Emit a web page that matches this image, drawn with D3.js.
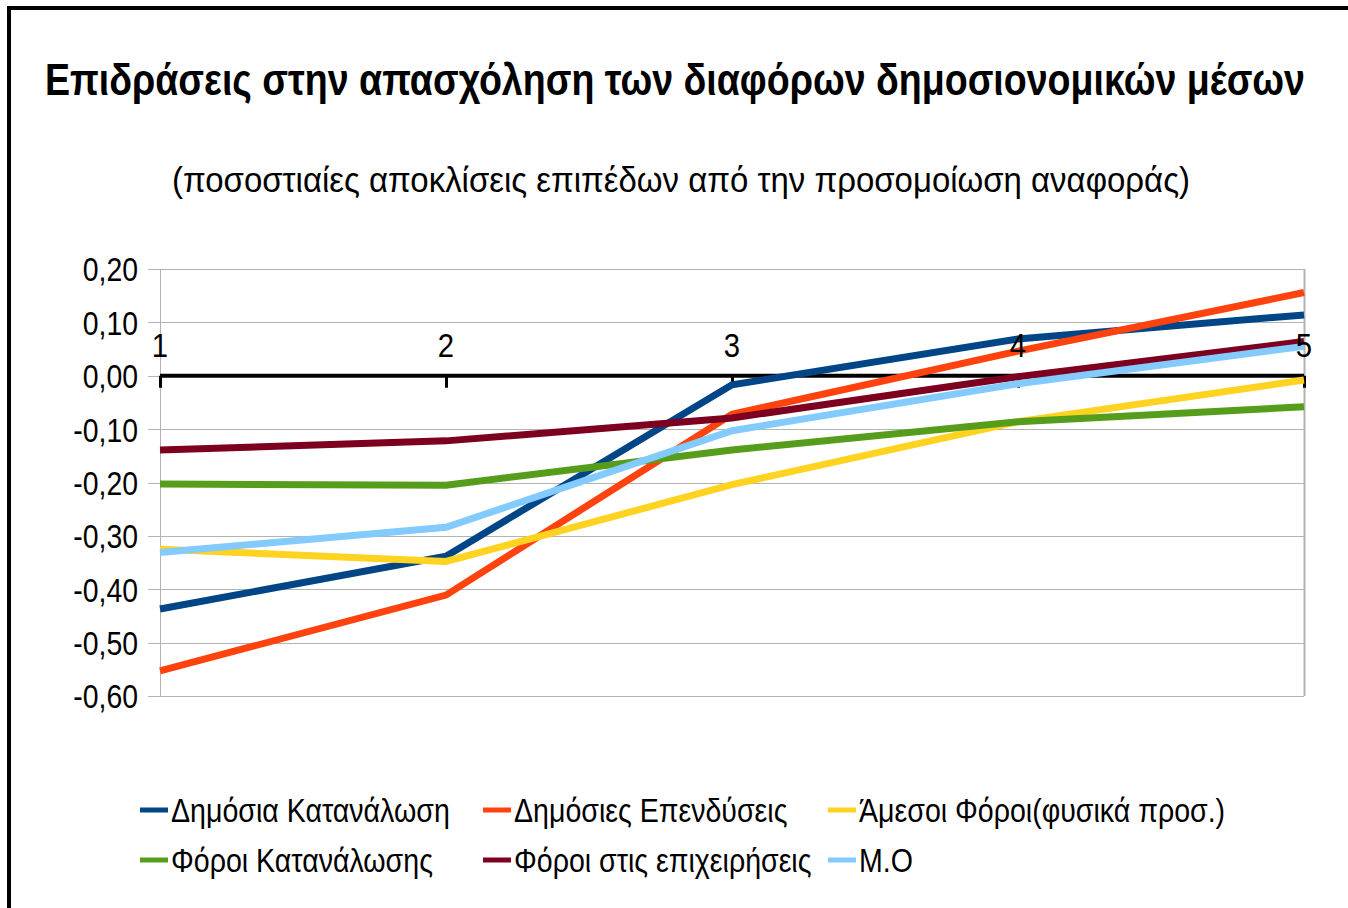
<!DOCTYPE html>
<meta charset="utf-8">
<style>
body { margin: 0; background: #fff; }
text { font-family: "Liberation Sans", Arial, sans-serif; fill: #000; }
.grid line { stroke: #b3b3b3; stroke-width: 1px; }
.series { fill: none; stroke-width: 7px; stroke-linejoin: miter; }
</style>
<body>
<script src="https://cdn.jsdelivr.net/npm/d3@7"></script>
<script>

// categories on the x axis
var years = [1, 2, 3, 4, 5];

// series values
var dimosiaKatanalosi  = [-0.437, -0.338, -0.017, 0.069, 0.114];
var dimosiesEpendyseis = [-0.553, -0.411, -0.072, 0.046, 0.156];
var amesoiForoi        = [-0.325, -0.348, -0.204, -0.086, -0.008];
var foroiKatanalosis   = [-0.203, -0.205, -0.139, -0.086, -0.058];
var foroiEpixeiriseis  = [-0.139, -0.122, -0.079, -0.002, 0.064];
var mesosOros          = [-0.331, -0.284, -0.103, -0.015, 0.055];

var seriesNames = ["Δημόσια Κατανάλωση", "Δημόσιες Επενδύσεις", "Άμεσοι Φόροι(φυσικά προσ.)",
                   "Φόροι Κατανάλωσης", "Φόροι στις επιχειρήσεις", "Μ.Ο"];
var seriesColors = ["#004586", "#ff420e", "#ffd320", "#579d1c", "#7e0021", "#83caff"];
var yTicks = [0.2, 0.1, 0, -0.1, -0.2, -0.3, -0.4, -0.5, -0.6];

var series = [dimosiaKatanalosi, dimosiesEpendyseis, amesoiForoi,
              foroiKatanalosis, foroiEpixeiriseis, mesosOros].map(function(v, i) {
  return { name: seriesNames[i], color: seriesColors[i], values: v };
});

var W = 1348, H = 908;
var plot = { left: 160, right: 1304, top: 269, bottom: 696 };

// the original uses a narrow font; squeeze the glyphs horizontally
function narrow(sel, k) {
  sel.each(function() {
    var w = this.getComputedTextLength();
    d3.select(this).attr("textLength", w * k).attr("lengthAdjust", "spacingAndGlyphs");
  });
}

var svg = d3.select("body").append("svg")
    .attr("width", W)
    .attr("height", H);

// outer frame (only top and left visible)
svg.append("line").attr("x1", 9).attr("x2", W).attr("y1", 8).attr("y2", 8)
    .attr("stroke", "#000").attr("stroke-width", 4);
svg.append("line").attr("x1", 9).attr("x2", 9).attr("y1", 6).attr("y2", H)
    .attr("stroke", "#000").attr("stroke-width", 4);

// titles
svg.append("text")
    .attr("x", 675).attr("y", 95)
    .attr("text-anchor", "middle")
    .attr("textLength", 1260).attr("lengthAdjust", "spacingAndGlyphs")
    .style("font-weight", "bold")
    .style("font-size", "45px")
    .text("Επιδράσεις στην απασχόληση των διαφόρων δημοσιονομικών μέσων");

svg.append("text")
    .attr("x", 681).attr("y", 192)
    .attr("text-anchor", "middle")
    .attr("textLength", 1018).attr("lengthAdjust", "spacingAndGlyphs")
    .style("font-size", "35px")
    .text("(ποσοστιαίες αποκλίσεις επιπέδων από την προσομοίωση αναφοράς)");

var x = d3.scalePoint().domain(years).range([plot.left, plot.right]);
var y = d3.scaleLinear().domain([-0.6, 0.2]).range([plot.bottom, plot.top]);

// grid lines
svg.append("g")
    .attr("class", "grid")
  .selectAll("line")
  .data(yTicks)
  .enter().append("line")
    .attr("x1", plot.left - 12).attr("x2", plot.right)
    .attr("y1", function(d) { return Math.round(y(d)) + 0.5; })
    .attr("y2", function(d) { return Math.round(y(d)) + 0.5; });

svg.append("line")
    .attr("x1", plot.left + 0.5).attr("x2", plot.left + 0.5)
    .attr("y1", plot.top).attr("y2", plot.bottom)
    .attr("stroke", "#b3b3b3");
svg.append("line")
    .attr("x1", plot.right + 0.5).attr("x2", plot.right + 0.5)
    .attr("y1", plot.top).attr("y2", plot.bottom)
    .attr("stroke", "#b3b3b3").attr("stroke-width", 2);

// Y axis labels
var yAxis = svg.append("g")
    .attr("transform", "translate(" + (plot.left - 12) + ",0)")
    .call(d3.axisLeft(y).tickValues(yTicks).tickSize(0).tickPadding(10)
      .tickFormat(function(d) {
        return d3.format(".2f")(d).replace(".", ",").replace("\u2212", "-");
      }));
yAxis.select(".domain").remove();
yAxis.selectAll("text")
    .attr("dy", "0.36em")
    .style("font-size", "33px")
    .style("font-family", '"Liberation Sans", Arial, sans-serif')
    .call(narrow, 0.86);

// series lines
var line = d3.line()
    .x(function(d, i) { return x(years[i]); })
    .y(function(d) { return y(d); });

// X axis at zero
var xAxis = svg.append("g")
    .attr("transform", "translate(0," + y(0) + ")")
    .call(d3.axisBottom(x).tickSize(12).tickFormat(""));
xAxis.select(".domain").attr("stroke", "#000").attr("stroke-width", 4)
    .attr("d", "M" + plot.left + ",0H" + plot.right);
xAxis.selectAll(".tick line").attr("stroke", "#000").attr("stroke-width", 3);

svg.append("g")
  .selectAll("path")
  .data(series)
  .enter().append("path")
    .attr("class", "series")
    .attr("stroke", function(d) { return d.color; })
    .attr("d", function(d) { return line(d.values); });

// x tick labels above axis
svg.append("g")
  .selectAll("text")
  .data(years)
  .enter().append("text")
    .attr("x", function(d) { return x(d); })
    .attr("y", y(0) - 19)
    .attr("text-anchor", "middle")
    .style("font-size", "34px")
    .text(function(d) { return d; })
    .call(narrow, 0.86);

// legend
var legendX = [140, 483, 828];
var legend = svg.append("g")
  .selectAll("g")
  .data(series)
  .enter().append("g")
    .attr("transform", function(d, i) {
      return "translate(" + legendX[i % 3] + "," + (822 + Math.floor(i / 3) * 50) + ")";
    });
legend.append("line")
    .attr("x1", 0).attr("x2", 28)
    .attr("y1", -12).attr("y2", -12)
    .attr("stroke", function(d) { return d.color; })
    .attr("stroke-width", 5);
legend.append("text")
    .attr("x", 31)
    .style("font-size", "34px")
    .text(function(d) { return d.name; })
    .call(narrow, 0.84);

</script>
</body>
